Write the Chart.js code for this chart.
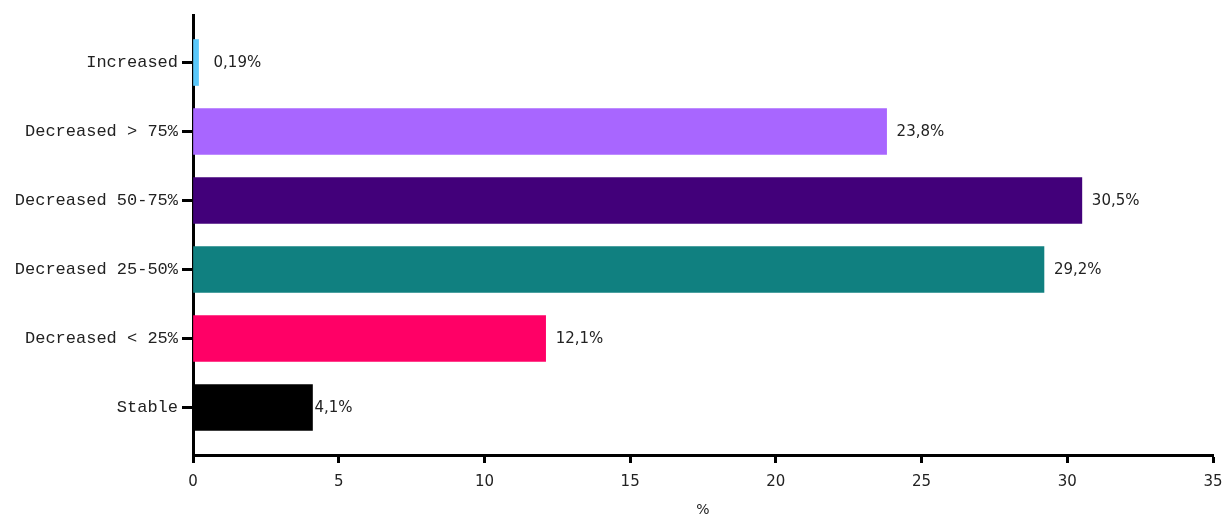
<!DOCTYPE html>
<html>
<head>
<meta charset="utf-8">
<script src="https://cdn.jsdelivr.net/npm/chart.js@4"></script>
<style>
  html, body { margin: 0; padding: 0; background: #fff; }
  #wrap { width: 1226px; height: 517px; }
</style>
</head>
<body>
<div id="wrap"><canvas id="barChart" width="1226" height="517"></canvas></div>
<script>
const categories = ['Increased', 'Decreased > 75%', 'Decreased 50-75%', 'Decreased 25-50%', 'Decreased < 25%', 'Stable'];
const values = [0.19, 23.8, 30.5, 29.2, 12.1, 4.1];
const valueLabels = ['0,19%', '23,8%', '30,5%', '29,2%', '12,1%', '4,1%'];
const barColors = ['#5ac8fa', '#a866ff', '#42007a', '#108080', '#ff0066', '#000000'];
const xTicks = [0, 5, 10, 15, 20, 25, 30, 35];

// rótulos de valor ao lado de cada barra
const valueLabelPlugin = {
  id: 'valueLabels',
  afterDatasetsDraw(chart) {
    const ctx = chart.ctx;
    const meta = chart.getDatasetMeta(0);
    ctx.save();
    ctx.font = '15px "DejaVu Sans"';
    ctx.fillStyle = '#222';
    ctx.textBaseline = 'middle';
    ctx.textAlign = 'left';
    meta.data.forEach(function (bar, i) {
      const gap = i === values.length - 1 ? 2 : (i === 0 ? 15 : 10);
      ctx.fillText(valueLabels[i], bar.x + gap, bar.y + 1);
    });
    ctx.restore();
  }
};

const config = {
  type: 'bar',
  data: {
    datasets: [{
      data: values.map(function (v, i) { return { x: v, y: i }; }),
      backgroundColor: barColors,
      borderWidth: 0,
      barThickness: 46,
    }],
  },
  options: {
    indexAxis: 'y',
    responsive: false,
    animation: false,
    layout: { padding: { top: 15, right: 13, left: 0, bottom: 0 } },
    scales: {
      x: {
        type: 'linear',
        min: xTicks[0],
        max: xTicks[xTicks.length - 1],
        afterBuildTicks: function (scale) {
          scale.ticks = xTicks.map(function (v) { return { value: v }; });
        },
        afterFit: function (scale) {
          scale.height = 62;
          scale.paddingLeft = 0;
          scale.paddingRight = 0;
        },
        border: { display: true, color: '#000', width: 3 },
        grid: { drawOnChartArea: false, drawTicks: true, tickLength: 8, tickWidth: 3, tickColor: '#000' },
        ticks: { color: '#222', padding: 10, font: { family: 'DejaVu Sans', size: 15 } },
        title: { display: true, text: '%', color: '#222', padding: { top: 8, bottom: 0 }, font: { family: 'DejaVu Sans', size: 14, lineHeight: 1 } },
      },
      y: {
        type: 'linear',
        reverse: true,
        offset: false,
        min: -0.5 - 13 / 69,
        max: categories.length - 0.5 + 13 / 69,
        afterBuildTicks: function (scale) {
          scale.ticks = categories.map(function (c, i) { return { value: i }; });
        },
        afterFit: function (scale) { scale.width = 193; },
        border: { display: true, color: '#000', width: 3 },
        grid: { offset: false, drawOnChartArea: false, drawTicks: true, tickLength: 11, tickWidth: 3, tickColor: '#000' },
        ticks: {
          color: '#222',
          padding: 4,
          font: { family: 'Liberation Mono', size: 17 },
          callback: function (v) { return categories[v]; },
        },
      },
    },
    plugins: {
      legend: { display: false },
      tooltip: { enabled: false },
    },
  },
  plugins: [valueLabelPlugin],
};

const ctx = document.getElementById('barChart').getContext('2d');
new Chart(ctx, config);
</script>
</body>
</html>
